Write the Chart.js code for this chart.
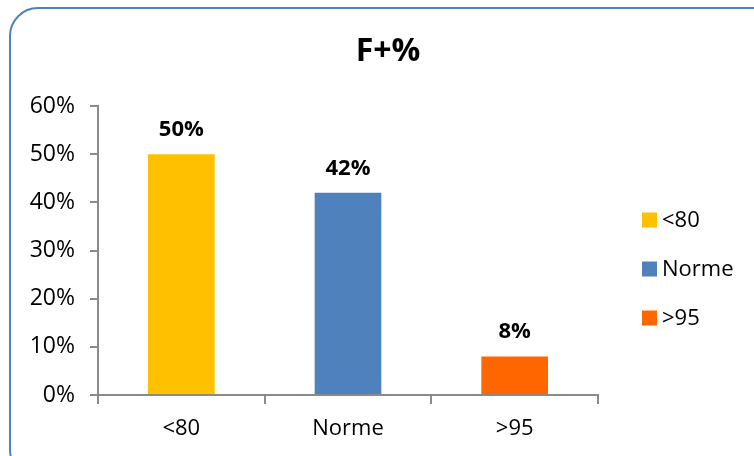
<!DOCTYPE html>
<html>
<head>
<meta charset="utf-8">
<script src="https://cdn.jsdelivr.net/npm/chart.js@4/dist/chart.umd.min.js"></script>
<style>
  html, body { margin: 0; padding: 0; background: #fff; }
  #wrap { width: 754px; height: 456px; position: relative; }
</style>
</head>
<body>
<div id="wrap"><canvas id="chart"></canvas></div>
<script>
// chart data
const categories = ['<80', 'Norme', '>95'];
const values = [50, 42, 8];          // percent
const yTicks = [0, 10, 20, 30, 40, 50, 60];
const title = 'F+%';

const barColors = ['#FFC000', '#4F81BD', '#FF6600'];
const axisColor = '#8a8a8a';
const fontFamily = '"Open Sans", "DejaVu Sans", sans-serif';

Chart.defaults.font.family = fontFamily;
Chart.defaults.color = '#000';

// rounded frame + title
const framePlugin = {
    id: 'frame',
    beforeDraw(chart) {
        const ctx = chart.ctx;
        ctx.save();
        ctx.fillStyle = '#fff';
        ctx.fillRect(0, 0, chart.width, chart.height);
        ctx.strokeStyle = '#4F81BD';
        ctx.lineWidth = 2;
        ctx.beginPath();
        ctx.roundRect(10, 8, 770, 470, 28);
        ctx.stroke();
        ctx.restore();
    },
    afterDraw(chart) {
        const ctx = chart.ctx;
        ctx.save();
        ctx.fillStyle = '#000';
        ctx.font = 'bold 32px ' + fontFamily;
        ctx.textAlign = 'center';
        ctx.textBaseline = 'middle';
        ctx.fillText(title, 388, 52);
        ctx.restore();
    }
};

// bold value labels above bars
const valueLabels = {
    id: 'valueLabels',
    afterDatasetsDraw(chart) {
        const ctx = chart.ctx;
        const meta = chart.getDatasetMeta(0);
        ctx.save();
        ctx.fillStyle = '#000';
        ctx.font = 'bold 22px ' + fontFamily;
        ctx.textAlign = 'center';
        ctx.textBaseline = 'alphabetic';
        meta.data.forEach((bar, i) => {
            ctx.fillText(values[i] + '%', bar.x, bar.y - 18);
        });
        ctx.restore();
    }
};

// legend on the right
const sideLegend = {
    id: 'sideLegend',
    afterDraw(chart) {
        const ctx = chart.ctx;
        const ds = chart.data.datasets[0];
        ctx.save();
        ctx.font = '22px ' + fontFamily;
        ctx.textBaseline = 'middle';
        ctx.textAlign = 'left';
        chart.data.labels.forEach((lab, i) => {
            const cy = 220 + i * 49;
            ctx.fillStyle = ds.backgroundColor[i];
            ctx.fillRect(642, cy - 7.5, 15, 15);
            ctx.fillStyle = '#000';
            ctx.fillText(lab, 662, cy + 1);
        });
        ctx.restore();
    }
};

new Chart(document.getElementById('chart'), {
    type: 'bar',
    data: {
        labels: categories,
        datasets: [{
            data: values,
            backgroundColor: barColors,
            borderWidth: 0,
            barPercentage: 0.4,
            categoryPercentage: 1
        }]
    },
    options: {
        responsive: true,
        maintainAspectRatio: false,
        animation: false,
        layout: { padding: { left: 10, top: 106, right: 156, bottom: 0 } },
        plugins: {
            legend: { display: false },
            title: { display: false },
            tooltip: { enabled: false }
        },
        scales: {
            x: {
                afterFit: scale => { scale.height = 61; },
                grid: {
                    offset: true,
                    drawOnChartArea: false,
                    drawTicks: true,
                    tickLength: 9,
                    color: axisColor,
                    lineWidth: 2
                },
                border: { color: axisColor, width: 2 },
                ticks: { font: { size: 22 }, padding: 12, color: '#000' }
            },
            y: {
                min: 0,
                max: 60,
                afterFit: scale => { scale.width = 88; },
                afterBuildTicks: scale => { scale.ticks = yTicks.map(v => ({ value: v })); },
                grid: {
                    drawOnChartArea: false,
                    drawTicks: true,
                    tickLength: 8,
                    color: axisColor,
                    lineWidth: 2
                },
                border: { color: axisColor, width: 2 },
                ticks: {
                    font: { size: 23 },
                    padding: 15,
                    color: '#000',
                    callback: v => v + '%'
                }
            }
        }
    },
    plugins: [framePlugin, valueLabels, sideLegend]
});
</script>
</body>
</html>
